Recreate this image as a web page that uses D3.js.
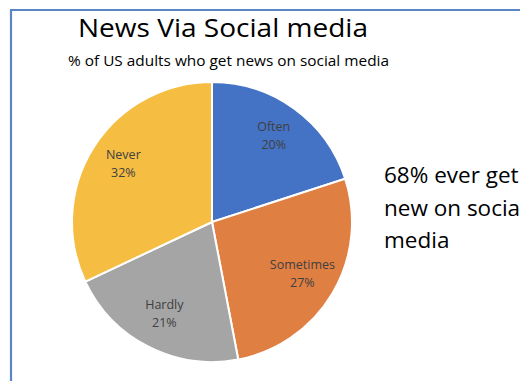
<!DOCTYPE html>
<html>
<head>
<meta charset="utf-8">
<script src="https://cdn.jsdelivr.net/npm/d3@7"></script>
<style>
  html, body { margin: 0; padding: 0; background: #fff; overflow: hidden; }
  svg { display: block; font-family: "Open Sans", Lato, sans-serif; }
</style>
</head>
<body>
<div class="chart"></div>
<script>
// data
const categories = ["Often", "Sometimes", "Hardly", "Never"];
const shares = [20, 27, 21, 32];
const colors = ["#4472c4", "#e07f42", "#a5a5a5", "#f5bd42"];
const noteLines = ["68% ever get", "new on socia", "media"];

const width = 520, height = 381;
const cx = 212, cy = 222, radius = 140;

const svg = d3.select(".chart").append("svg")
  .attr("width", width).attr("height", height);

// frame lines (top + left)
svg.append("path")
  .attr("d", "M11,381 V10 H520")
  .attr("fill", "none").attr("stroke", "#5a86c6").attr("stroke-width", 2.2);

// titles
svg.append("text").attr("x", 78).attr("y", 37)
  .attr("font-size", 25).attr("fill", "#000")
  .attr("textLength", 290).attr("lengthAdjust", "spacingAndGlyphs")
  .text("News Via Social media");
svg.append("text").attr("x", 68).attr("y", 66)
  .attr("font-size", 14).attr("fill", "#000")
  .attr("textLength", 321).attr("lengthAdjust", "spacingAndGlyphs")
  .text("% of US adults who get news on social media");

// pie
const pie = d3.pie().sort(null).value(d => d)(shares);
const arc = d3.arc().innerRadius(0).outerRadius(radius);
const labelArc = d3.arc().innerRadius(radius * 0.75).outerRadius(radius * 0.75);

const g = svg.append("g").attr("transform", `translate(${cx},${cy})`);

g.selectAll("path.slice").data(pie).enter().append("path")
  .attr("class", "slice")
  .attr("d", arc)
  .attr("fill", (d, i) => colors[i])
  .attr("stroke", "#fff").attr("stroke-width", 2);

const lab = g.selectAll("text.lab").data(pie).enter().append("text")
  .attr("class", "lab")
  .attr("text-anchor", "middle")
  .attr("font-size", 12.5).attr("fill", "#404040")
  .attr("transform", d => {
    const [x, y] = labelArc.centroid(d);
    return `translate(${x},${y - 4})`;
  });
lab.append("tspan").attr("x", 0).attr("dy", "-0.2em").text((d, i) => categories[i]);
lab.append("tspan").attr("x", 0).attr("dy", "1.45em").text(d => d.data + "%");

// side note
const note = svg.append("text").attr("x", 384).attr("y", 183)
  .attr("font-size", 22.5).attr("fill", "#000");
noteLines.forEach((t, i) => {
  note.append("tspan").attr("x", 384).attr("y", 183 + i * 32.5).text(t);
});
</script>
</body>
</html>
